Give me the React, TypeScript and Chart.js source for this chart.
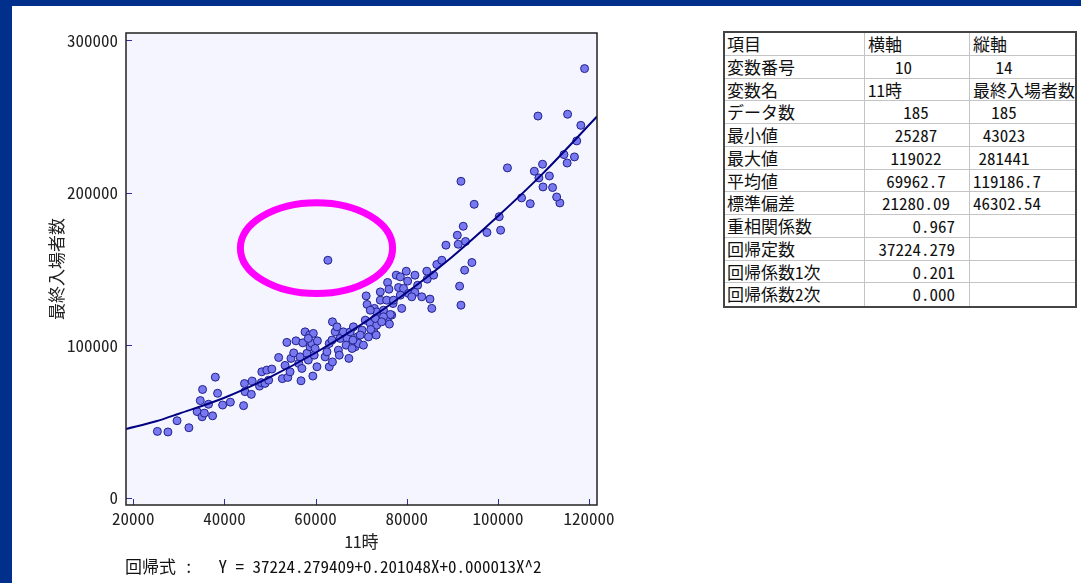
import React, { useEffect, useRef } from "react";
import { Chart, registerables } from "chart.js";
Chart.register(...registerables);

// ---- data ----
const X_VALUES = [
  25287, 27600, 29600, 32200, 35200, 34700, 34000, 35100, 35600, 36500,
  37400, 38500, 39600, 38000, 41300, 44200, 44500, 44400, 45900, 46100,
  47700, 48100, 48900, 49700, 48200, 49300, 50400, 51900, 52700, 53300,
  53700, 53900, 54400, 54600, 55200, 55700, 56300, 56600, 56800, 57000,
  57200, 57700, 58100, 58400, 58700, 58800, 59200, 59500, 59700, 59900,
  59400, 60300, 60400, 63000, 63700, 63000, 63700, 64300, 64700, 65000,
  65400, 66100, 66900, 67300, 67600, 68300, 68700, 69200, 69400, 62100,
  62500, 65200, 63600, 68200, 66700, 70500, 68000, 70200, 72700, 73300,
  71600, 69800, 58400, 70900, 72000, 73400, 75800, 76700, 71100, 71300,
  74200, 75600, 77000, 78900, 72900, 73400, 72000, 74900, 76400, 74900,
  73100, 74500, 62700, 77700, 79900, 78600, 80200, 81800, 84400, 84500,
  85900, 86600, 75800, 76100, 78200, 74200, 79300, 82400, 80400, 81800,
  83300, 85100, 85500, 81100, 78600, 77100, 76200, 72100, 87700, 94300,
  92700, 91600, 91900, 88600, 91300, 92900, 91100, 92400, 97600, 100600,
  100300, 94800, 91900, 105200, 107100, 113600, 112900, 112000, 109900, 109000,
  111300, 108000, 102100, 109800, 114500, 115200, 116800, 117300, 118200, 115300,
  108800, 119022,
];
const Y_VALUES = [
  43400, 43023, 50400, 45800, 70900, 63600, 56400, 53000, 55400, 61200,
  53600, 68400, 60700, 79000, 62600, 60300, 69500, 74800, 67700, 76400,
  73100, 75400, 74900, 77000, 82500, 83600, 84300, 91900, 78000, 86700,
  101800, 78800, 82500, 91300, 94900, 102800, 88000, 92300, 76600, 84700,
  101500, 108700, 94600, 90200, 106600, 98900, 101100, 107700, 93400, 97800,
  79700, 85800, 102800, 85800, 89000, 101100, 115300, 108700, 112000, 96700,
  104400, 108700, 104400, 91300, 108700, 112000, 98900, 105400, 101100, 92300,
  95600, 93400, 103300, 103300, 100000, 100000, 97800, 109800, 109800, 106600,
  105400, 106600, 104400, 116400, 114200, 113100, 115700, 119700, 132300, 126700,
  129500, 129500, 127300, 124100, 124100, 121800, 122900, 122900, 120100, 118600,
  117500, 115300, 155700, 145900, 148500, 144800, 142000, 145900, 148500, 143300,
  145900, 152900, 141100, 136700, 137800, 134900, 137200, 139300, 133900, 134600,
  131700, 130200, 124100, 131700, 132800, 129500, 113800, 110300, 155700, 154200,
  149200, 138700, 126200, 165600, 166200, 168000, 172100, 178000, 173900, 175400,
  184300, 192400, 207500, 196600, 192800, 193300, 197200, 203400, 203800, 209700,
  211000, 214100, 216300, 218700, 225000, 219500, 223500, 234000, 244200, 251500,
  250300, 281441,
];
// regression curve
const FIT_X = [18400, 25000, 30000, 40000, 50000, 60000, 70000, 80000, 90000, 100000, 110000, 121750];
const FIT_Y = [45000, 50000, 55000, 65500, 79000, 95000, 113500, 134500, 158000, 184500, 213000, 250000];
const X_TICKS = [20000, 40000, 60000, 80000, 100000, 120000];
const Y_TICKS = [0, 100000, 200000, 300000];
const X_RANGE = [18400, 121750];
const Y_RANGE = [-4900, 304800];
// highlighted region: centre x, centre y, radius x, radius y (data units)
const HIGHLIGHT = [60200, 163600, 16700, 29800];
const X_TITLE = "11時";
const Y_TITLE = "最終入場者数";
const EQUATION = "回帰式 :   Y = 37224.279409+0.201048X+0.000013X^2";

const TABLE_HEAD = ["項目", "横軸", "縦軸"];
const TABLE_LABELS = ["変数番号", "変数名", "データ数", "最小値", "最大値", "平均値", "標準偏差", "重相関係数", "回帰定数", "回帰係数1次", "回帰係数2次"];
const TABLE_X = ["10", "11時", "185", "25287", "119022", "69962.7", "21280.09", "0.967", "37224.279", "0.201", "0.000"];
const TABLE_Y = ["14", "最終入場者数", "185", "43023", "281441", "119186.7", "46302.54", "", "", "", ""];

// ---- styles ----
const FONT = '"Noto Sans Mono CJK JP", "Noto Sans CJK JP", sans-serif';
const FONT_SIZE = 17;
const NAVY = "#00308c";
const COL2_ALIGN = ["left", "left", "left", "center", "center", "center", "center", "center", "right", "right", "right", "right"];
const COL2_PADLEFT = [3, 30, 3, 0, 0, 0, 0, 0, 0, 0, 0, 0];

const decor = {
  id: "decor",
  beforeDatasetsDraw(chart: any) {
    const { ctx, chartArea: a } = chart;
    ctx.save();
    ctx.fillStyle = "#f5f5ff";
    ctx.fillRect(a.left, a.top, a.right - a.left, a.bottom - a.top);
    ctx.restore();
  },
  afterDraw(chart: any) {
    const { ctx, chartArea: a, scales } = chart;
    const xs = scales.x, ys = scales.y;
    ctx.save();
    const cx = xs.getPixelForValue(HIGHLIGHT[0]);
    const cy = ys.getPixelForValue(HIGHLIGHT[1]);
    const rx = Math.abs(xs.getPixelForValue(HIGHLIGHT[0] + HIGHLIGHT[2]) - cx);
    const ry = Math.abs(ys.getPixelForValue(HIGHLIGHT[1] + HIGHLIGHT[3]) - cy);
    ctx.beginPath();
    ctx.ellipse(cx, cy, rx, ry, 0, 0, Math.PI * 2);
    ctx.strokeStyle = "#ff00ff";
    ctx.lineWidth = 7;
    ctx.stroke();
    ctx.strokeStyle = "#3030a0";
    ctx.lineWidth = 1;
    Y_TICKS.forEach((v) => {
      const y = Math.round(ys.getPixelForValue(v)) + 0.5;
      ctx.beginPath();
      ctx.moveTo(a.left, y);
      ctx.lineTo(a.left + 6, y);
      ctx.stroke();
    });
    X_TICKS.forEach((v) => {
      const x = Math.round(xs.getPixelForValue(v)) + 0.5;
      ctx.beginPath();
      ctx.moveTo(x, a.bottom);
      ctx.lineTo(x, a.bottom - 6);
      ctx.stroke();
    });
    ctx.strokeStyle = "#222";
    ctx.lineWidth = 1.5;
    ctx.strokeRect(a.left, a.top, a.right - a.left, a.bottom - a.top);
    ctx.restore();
  },
};

export default function App() {
  const ref = useRef<HTMLCanvasElement>(null);
  useEffect(() => {
    if (!ref.current) return;
    const font = { family: FONT, size: FONT_SIZE };
    const chart = new Chart(ref.current, {
      type: "scatter",
      data: {
        datasets: [
          {
            label: "fit",
            data: FIT_X.map((x, i) => ({ x, y: FIT_Y[i] })),
            showLine: true,
            borderColor: "#000080",
            borderWidth: 2,
            pointRadius: 0,
            tension: 0.4,
            cubicInterpolationMode: "monotone",
          } as any,
          {
            label: "data",
            data: X_VALUES.map((x, i) => ({ x, y: Y_VALUES[i] })),
            pointRadius: 4,
            pointBorderWidth: 1,
            backgroundColor: "#7878f0",
            borderColor: "#22228c",
          },
        ],
      },
      options: {
        responsive: false,
        animation: false,
        events: [],
        layout: { padding: { left: 0, right: 43, top: 33, bottom: 0 } },
        plugins: { legend: { display: false }, tooltip: { enabled: false } },
        scales: {
          x: {
            type: "linear",
            min: X_RANGE[0],
            max: X_RANGE[1],
            grid: { display: false, drawTicks: false },
            border: { display: false },
            ticks: { font, color: "#222", padding: 3, maxRotation: 0, callback: (v: any) => String(v) },
            afterBuildTicks: (s: any) => { s.ticks = X_TICKS.map((value) => ({ value })); },
            afterFit: (s: any) => { s.height = 78; },
            title: { display: true, text: X_TITLE, font, color: "#222", padding: { top: 0, bottom: 31 } },
          },
          y: {
            type: "linear",
            min: Y_RANGE[0],
            max: Y_RANGE[1],
            grid: { display: false, drawTicks: false },
            border: { display: false },
            ticks: { font, color: "#222", padding: 8, callback: (v: any) => String(v) },
            afterBuildTicks: (s: any) => { s.ticks = Y_TICKS.map((value) => ({ value })); },
            afterFit: (s: any) => { s.width = 126; },
            title: { display: true, text: Y_TITLE, font, color: "#222", padding: { top: 46, bottom: 0 } },
          },
        },
      } as any,
      plugins: [decor],
    });
    return () => chart.destroy();
  }, []);

  const rowH = 22.75;
  const cellBase: React.CSSProperties = {
    boxSizing: "border-box",
    borderRight: "1px solid #c4c4c4",
    borderBottom: "1px solid #c4c4c4",
    overflow: "hidden",
    whiteSpace: "pre",
    lineHeight: rowH - 1 + "px",
    height: rowH,
    fontSize: FONT_SIZE,
    color: "#111",
  };
  const rows = [TABLE_HEAD, ...TABLE_LABELS.map((l, i) => [l, TABLE_X[i], TABLE_Y[i]])];

  return (
    <div style={{ position: "absolute", left: 0, top: 0, width: 1081, height: 583, background: "#fff", overflow: "hidden", fontFamily: FONT }}>
      <canvas ref={ref} width={640} height={583} style={{ position: "absolute", left: 0, top: 0, width: 640, height: 583 }} />
      <div style={{ position: "absolute", left: 0, top: 0, width: 1081, height: 6, background: NAVY }} />
      <div style={{ position: "absolute", left: 0, top: 0, width: 12, height: 583, background: NAVY }} />
      <div style={{ position: "absolute", left: 125, top: 555, fontSize: FONT_SIZE, lineHeight: "22px", whiteSpace: "pre", color: "#111" }}>{EQUATION}</div>
      <div
        style={{
          position: "absolute",
          left: 723,
          top: 31,
          width: 354,
          boxSizing: "border-box",
          border: "2px solid #444",
          display: "grid",
          gridTemplateColumns: "140px 105px 105px",
        }}
      >
        {rows.map((r, ri) =>
          r.map((c, ci) => {
            const last = ri === rows.length - 1;
            let style: React.CSSProperties = { ...cellBase, borderBottom: last ? "none" : cellBase.borderBottom, borderRight: ci === 2 ? "none" : cellBase.borderRight };
            if (ci === 0) style = { ...style, textAlign: "left", paddingLeft: 2 };
            if (ci === 1) {
              const al = COL2_ALIGN[ri];
              style = { ...style, textAlign: al as any, paddingLeft: COL2_PADLEFT[ri], paddingRight: al === "right" ? 14 : al === "center" ? 2 : 0 };
            }
            if (ci === 2) {
              const al = ri === 0 || ri === 2 ? "left" : "center";
              style = { ...style, textAlign: al as any, paddingLeft: 3, paddingRight: al === "center" ? 40 : 0 };
            }
            return (
              <div key={ri + "-" + ci} style={style}>
                {c}
              </div>
            );
          })
        )}
      </div>
    </div>
  );
}
